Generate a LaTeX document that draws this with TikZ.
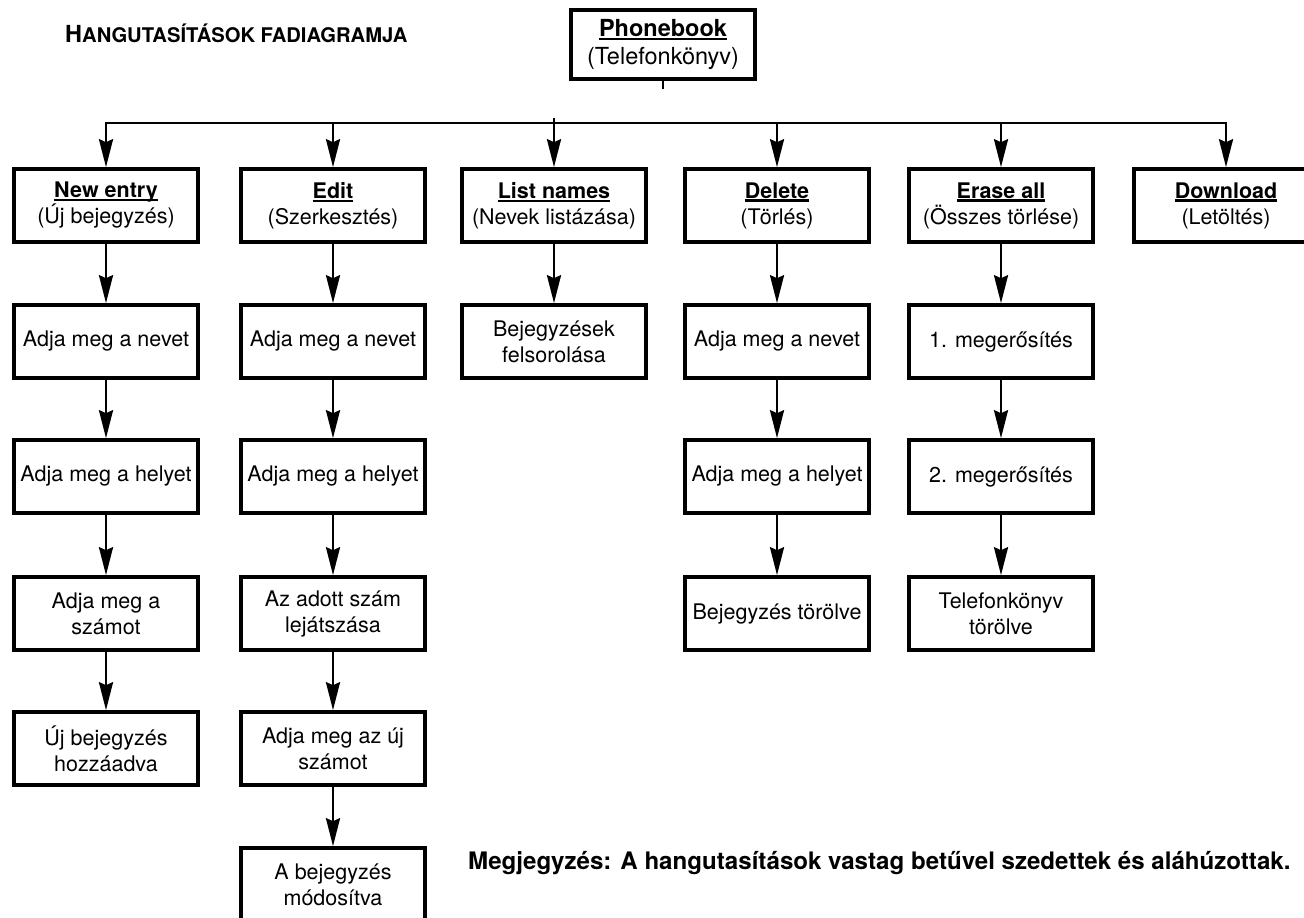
\documentclass[tikz,border=0pt]{standalone}
\usepackage{fontspec}
\setmainfont{TeX Gyre Heros}
\usetikzlibrary{arrows.meta, positioning, calc}
\newcommand\undl[1]{\setbox0=\hbox{#1}\rlap{\rule[-3.5pt]{\wd0}{2.2pt}}\box0}

\begin{document}
\begin{tikzpicture}[x=1pt, y=-1pt,
    menubox/.style={draw, line width=3.6pt, minimum width=184pt, minimum height=73pt,
        inner sep=0pt, align=center, font=\fontsize{21.5}{26}\selectfont},
    rootbox/.style={menubox, minimum height=69pt, font=\fontsize{23.5}{28}\selectfont},
    flow/.style={-{Stealth[length=28pt, width=14pt, inset=3pt]}, line width=2.6pt},
    link/.style={line width=2.6pt}]
    \useasboundingbox (0,0) rectangle (1304,918);
    \clip (0,0) rectangle (1304,918);

    % Title
    \node[anchor=base west, inner sep=0pt, font=\bfseries] (title) at (65,42)
        {{\fontsize{23.5}{28}\selectfont H}{\fontsize{20.2}{24}\selectfont ANGUTASÍTÁSOK FADIAGRAMJA}};

    % Root
    \node[rootbox] (pb) at (663,44.5) {\undl{\textbf{Phonebook}}\\(Telefonkönyv)};

    % Voice commands
    \node[menubox] (ne) at (106,205.5) {\undl{\textbf{New entry}}\\(Új bejegyzés)};
    \node[menubox] (ed) at (333,205.5) {\undl{\textbf{Edit}}\\(Szerkesztés)};
    \node[menubox] (ln) at (554,205.5) {\undl{\textbf{List names}}\\(Nevek listázása)};
    \node[menubox] (de) at (777,205.5) {\undl{\textbf{Delete}}\\(Törlés)};
    \node[menubox] (ea) at (1001,205.5) {\undl{\textbf{Erase all}}\\(Összes törlése)};
    \node[menubox] (dl) at (1226,205.5) {\undl{\textbf{Download}}\\(Letöltés)};

    % New entry column
    \node[menubox] (ne1) at (106,341.5) {Adja meg a nevet};
    \node[menubox] (ne2) at (106,476.5) {Adja meg a helyet};
    \node[menubox] (ne3) at (106,613.5) {Adja meg a\\számot};
    \node[menubox] (ne4) at (106,748.5) {Új bejegyzés\\hozzáadva};

    % Edit column
    \node[menubox] (ed1) at (333,341.5) {Adja meg a nevet};
    \node[menubox] (ed2) at (333,476.5) {Adja meg a helyet};
    \node[menubox] (ed3) at (333,613.5) {Az adott szám\\lejátszása};
    \node[menubox] (ed4) at (333,748.5) {Adja meg az új\\számot};
    \node[menubox] (ed5) at (333,884.5) {A bejegyzés\\módosítva};

    % List names column
    \node[menubox] (ln1) at (554,341.5) {Bejegyzések\\felsorolása};

    % Delete column
    \node[menubox] (de1) at (777,341.5) {Adja meg a nevet};
    \node[menubox] (de2) at (777,476.5) {Adja meg a helyet};
    \node[menubox] (de3) at (777,613.5) {Bejegyzés törölve};

    % Erase all column
    \node[menubox] (ea1) at (1001,341.5) {1. megerősítés};
    \node[menubox] (ea2) at (1001,476.5) {2. megerősítés};
    \node[menubox] (ea3) at (1001,613.5) {Telefonkönyv\\törölve};

    % Branching bar
    \coordinate (bar) at (0,123);
    \coordinate (tick) at (0,118);
    \draw[link] (pb.south) -- ++(0,8);
    \draw[link, line cap=rect] (bar -| ne) -- (bar -| dl);
    \foreach \n in {ne,ed,de,ea,dl}
        \draw[flow] (bar -| \n) -- (\n.north);
    \draw[flow] (tick -| ln) -- (ln.north);

    % Steps
    \foreach \a/\b in {ne/ne1,ne1/ne2,ne2/ne3,ne3/ne4,
                       ed/ed1,ed1/ed2,ed2/ed3,ed3/ed4,ed4/ed5,
                       ln/ln1,de/de1,de1/de2,de2/de3,
                       ea/ea1,ea1/ea2,ea2/ea3}
        \draw[flow] (\a.south) -- (\b.north);

    % Note
    \node[anchor=base west, inner sep=0pt, font=\bfseries\fontsize{24.1}{28}\selectfont] (note) at (468,869)
        {Megjegyzés: A hangutasítások vastag betűvel szedettek és aláhúzottak.};
\end{tikzpicture}
\end{document}
